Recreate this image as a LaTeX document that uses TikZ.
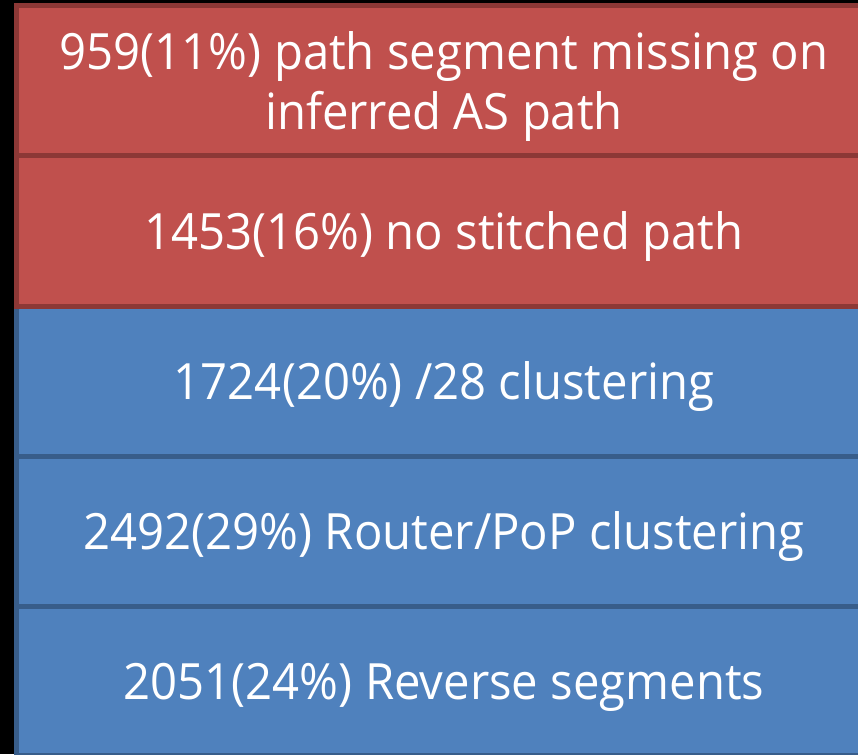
\documentclass[tikz,border=0pt]{standalone}
\usepackage{fontspec}
\setmainfont[FakeStretch=0.945]{Open Sans}
\definecolor{rfill}{HTML}{C0504D}
\definecolor{rline}{HTML}{8C3836}
\definecolor{bfill}{HTML}{4F81BD}
\definecolor{bline}{HTML}{385D8A}
\begin{document}
\begin{tikzpicture}[x=1pt,y=-1pt,
  redbox/.style={fill=rfill,draw=rline,line width=5pt},
  bluebox/.style={fill=bfill,draw=bline,line width=5pt},
  lbl/.style={text=white,font=\fontsize{50}{60}\selectfont,inner sep=0pt,anchor=base}]
\useasboundingbox (0,0) rectangle (858,754);
\fill[black] (0,0) rectangle (858,754);
\clip (0,0) rectangle (858,754);
\draw[bluebox] (16.5,606) rectangle (880,755);
\draw[bluebox] (16.5,456) rectangle (880,606);
\draw[bluebox] (16.5,306) rectangle (880,456);
\draw[redbox] (16.5,156) rectangle (880,306);
\draw[redbox] (16.5,6) rectangle (880,156);
\node[lbl] (t1a) at (444,70) {959(11\%) path segment missing on};
\node[lbl] (t1b) at (444,130) {inferred AS path};
\node[lbl] (t2) at (444,249) {1453(16\%) no stitched path};
\node[lbl] (t3) at (444,399) {1724(20\%) /28 clustering};
\node[lbl] (t4) at (444,549) {2492(29\%) Router/PoP clustering};
\node[lbl] (t5) at (444,699) {2051(24\%) Reverse segments};
\end{tikzpicture}
\end{document}
